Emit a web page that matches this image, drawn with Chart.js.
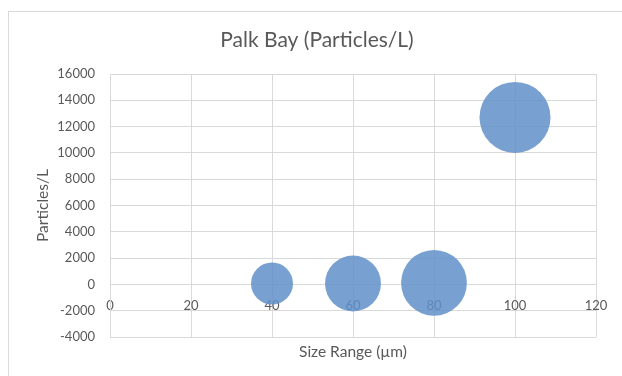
<!DOCTYPE html>
<html>
<head>
<meta charset="utf-8">
<script src="https://cdn.jsdelivr.net/npm/chart.js@4/dist/chart.umd.min.js"></script>
<style>
  html, body { margin: 0; padding: 0; background: #ffffff; }
  #wrap { position: relative; width: 622px; height: 376px; overflow: hidden; }
  #frame { position: absolute; left: 8px; top: 11px; width: 640px; height: 400px; border: 1px solid #d9d9d9; box-sizing: border-box; }
  canvas { position: absolute; left: 0; top: 0; }
</style>
</head>
<body>
<div id="wrap">
  <div id="frame"></div>
  <canvas id="chart" width="622" height="376"></canvas>
</div>
<script>
// Size ranges (µm) on the x axis
const sizeRange = [40, 60, 80, 100];
// Particle counts per litre
const particlesPerL = [70, 70, 120, 12700];
// Relative bubble sizes
const bubbleSize = [3500, 6200, 8600, 10000];

const xTicks = { min: 0, max: 120, step: 20 };
const yTicks = { min: -4000, max: 16000, step: 2000 };
const chartTitle = 'Palk Bay (Particles/L)';

const MAX_RADIUS = 35.5;
const maxSize = Math.max(...bubbleSize);

const points = sizeRange.map((x, i) => ({
  x: x,
  y: particlesPerL[i],
  r: MAX_RADIUS * Math.sqrt(bubbleSize[i] / maxSize)
}));

const FONT = "Lato, 'Open Sans', sans-serif";
const TXT = '#595959';
const GRID = '#d9d9d9';

// Chart title drawn above the plot area
const titlePlugin = {
  id: 'chartTitleText',
  afterDraw(chart) {
    const ctx = chart.ctx;
    ctx.save();
    ctx.fillStyle = TXT;
    ctx.font = "21px " + FONT;
    ctx.textAlign = 'center';
    ctx.textBaseline = 'middle';
    ctx.fillText(chartTitle, 317, 40);
    ctx.restore();
  }
};

const plain = v => String(v);

new Chart(document.getElementById('chart'), {
  type: 'bubble',
  data: {
    datasets: [{
      label: 'Palk Bay',
      data: points,
      backgroundColor: 'rgba(96,143,200,0.85)',
      borderWidth: 0,
      hoverBackgroundColor: 'rgba(96,143,200,0.85)'
    }]
  },
  plugins: [titlePlugin],
  options: {
    responsive: false,
    animation: false,
    events: [],
    layout: { autoPadding: false, padding: { left: 0, right: 26, top: 74, bottom: 0 } },
    plugins: {
      legend: { display: false },
      tooltip: { enabled: false },
      title: { display: false }
    },
    scales: {
      x: {
        type: 'linear',
        position: 'bottom',
        min: xTicks.min, max: xTicks.max,
        grid: { color: GRID, drawTicks: false },
        border: { display: false },
        ticks: { display: false, stepSize: xTicks.step },
        title: {
          display: true,
          text: 'Size Range (µm)',
          color: TXT,
          font: { family: FONT, size: 15.5 },
          padding: { top: 0, bottom: 15 }
        },
        afterFit: s => { s.height = 39; }
      },
      xLabels: {
        type: 'linear',
        axis: 'x',
        position: { y: 0 },
        min: xTicks.min, max: xTicks.max,
        grid: { display: false, drawTicks: false },
        border: { display: false },
        ticks: {
          stepSize: xTicks.step,
          color: TXT,
          font: { family: FONT, size: 13 },
          padding: 14,
          maxRotation: 0,
          callback: plain
        }
      },
      y: {
        type: 'linear',
        min: yTicks.min, max: yTicks.max,
        grid: { color: GRID, drawTicks: false },
        border: { display: true, color: GRID },
        ticks: {
          stepSize: yTicks.step,
          color: TXT,
          font: { family: FONT, size: 13 },
          padding: 15,
          callback: plain
        },
        title: {
          display: true,
          text: 'Particles/L',
          color: TXT,
          font: { family: FONT, size: 15.5 },
          padding: { top: 34, bottom: 0 }
        },
        afterFit: s => { s.width = 110; }
      }
    }
  }
});
</script>
</body>
</html>
